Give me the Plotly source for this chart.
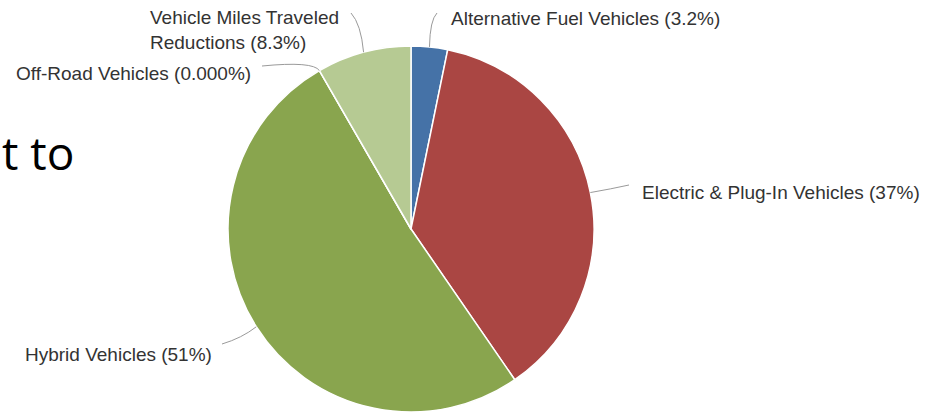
import math
import plotly.graph_objects as go

# ---- data ----
categories = ["Alternative Fuel Vehicles", "Electric & Plug-In Vehicles", "Hybrid Vehicles",
              "Off-Road Vehicles", "Vehicle Miles Traveled Reductions"]
values = [3.2, 37.0, 51.0, 0.0004, 8.3]
label_texts = ["Alternative Fuel Vehicles (3.2%)", "Electric & Plug-In Vehicles (37%)",
               "Hybrid Vehicles (51%)", "Off-Road Vehicles (0.000%)",
               "Vehicle Miles Traveled<br>Reductions (8.3%)"]
colors = ["#4572A7", "#AA4643", "#89A54E", "#80699B", "#B6CA93"]

W, H = 933, 412
CX, CY, R = 411, 229, 183

# label layout (pixel positions of text left/middle, leader end, leader control)
label_pos = [(449, 19), (640, 192), (23, 354), (14, 73), (148, 30)]
leader_end = [(437, 13), (629, 185), (222, 344), (262, 66), (351, 13)]
leader_ctrl = [(430, 20), (611, 189), (242, 338), (313, 61), (361, 24)]

fig = go.Figure()
fig.add_trace(go.Pie(
    labels=categories, values=values, sort=False, direction="clockwise", rotation=0,
    marker=dict(colors=colors, line=dict(color="white", width=1.5)),
    textinfo="none", hoverinfo="label+percent", showlegend=False,
    domain=dict(x=[(CX - R) / W, (CX + R) / W], y=[0, 2 * R / H]),
))

def px(x):
    return x / W

def py(y):
    return 1 - y / H

total = sum(values)
cum = 0.0
shapes = []
annotations = []
for i, v in enumerate(values):
    if i == 3:  # zero-size slice: anchor at its start boundary
        mid = cum
    else:
        mid = cum + v / 2
    cum += v
    ang = mid / total * 2 * math.pi
    sx = CX + R * math.sin(ang)
    sy = CY - R * math.cos(ang)
    ex, ey = leader_end[i]
    qx, qy = leader_ctrl[i]
    path = f"M {px(sx)},{py(sy)} Q {px(qx)},{py(qy)} {px(ex)},{py(ey)}"
    shapes.append(dict(type="path", path=path, xref="paper", yref="paper",
                       line=dict(color="#9a9a9a", width=1)))
    lx, ly = label_pos[i]
    annotations.append(dict(text=label_texts[i], x=px(lx), y=py(ly), xref="paper", yref="paper",
                            xanchor="left", yanchor="middle", align="left", showarrow=False,
                            font=dict(family="Liberation Sans, Arial", size=19, color="#333333")))

# stray slide text at left edge
annotations.append(dict(text="t to", x=px(76), y=py(152), xref="paper", yref="paper",
                        xanchor="right", yanchor="middle", showarrow=False,
                        font=dict(family="Open Sans", size=46, color="#000000")))

fig.update_layout(
    width=W, height=H, autosize=False,
    margin=dict(l=0, r=0, t=0, b=0),
    paper_bgcolor="white", plot_bgcolor="white",
    shapes=shapes, annotations=annotations,
)

fig.write_html("out.html", config={"displayModeBar": False},
               post_script="document.body.style.margin='0';document.body.style.overflow='hidden';")
